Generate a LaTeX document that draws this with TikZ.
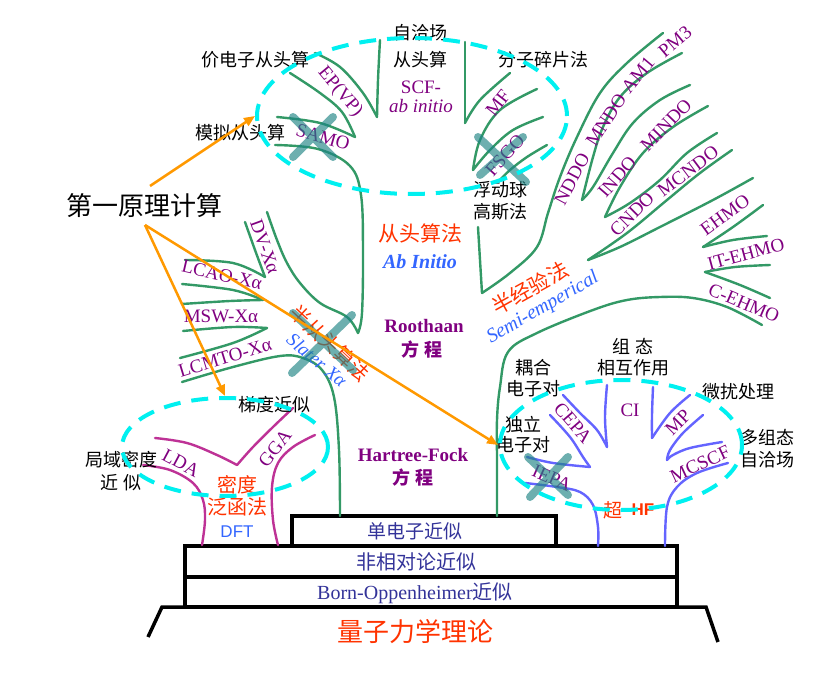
\documentclass[tikz,border=0pt]{standalone}
\usepackage{fontspec}
\setmainfont{Liberation Serif}
\newfontfamily\cjk{Noto Sans CJK SC}
\newfontfamily\arialf{Liberation Sans}
\usetikzlibrary{arrows.meta,shapes.geometric}
\definecolor{grn}{HTML}{339966}
\definecolor{pur}{HTML}{800080}
\definecolor{mgn}{HTML}{BE3296}
\definecolor{hfb}{HTML}{6464FF}
\definecolor{cyn}{HTML}{00F0F0}
\definecolor{org}{HTML}{FF9900}
\definecolor{redt}{HTML}{FF3300}
\definecolor{blut}{HTML}{3366FF}
\definecolor{navyt}{HTML}{333399}
\definecolor{tealx}{HTML}{1F8585}
\begin{document}
\begin{tikzpicture}[x=1pt,y=-1pt,
  gr/.style={draw=grn,line width=2.4pt,line cap=round,line join=round},
  mg/.style={draw=mgn,line width=2.4pt,line cap=round,line join=round},
  hb/.style={draw=hfb,line width=2.4pt,line cap=round,line join=round},
  ell/.style={draw=cyn,line width=4pt,dash pattern=on 17pt off 11pt,ellipse,inner sep=0pt},
  xm/.style={draw=tealx,line width=8pt,line cap=round,opacity=0.65},
  arr/.style={draw=org,line width=2.5pt,-{Triangle[length=11pt,width=9pt]}},
  basebox/.style={draw=black,line width=3.5pt,fill=white,inner sep=0pt},
  basel/.style={draw=black,line width=3.5pt},
  plab/.style={text=pur,font=\fontsize{19}{20}\selectfont,inner sep=0pt},
  clab/.style={font=\cjk\fontsize{18}{22}\selectfont,align=center,inner sep=0pt},
  rlab/.style={text=redt,font=\cjk\fontsize{21}{22}\selectfont,align=center,inner sep=0pt},
  boxt/.style={text=navyt,font=\fontsize{20}{22}\selectfont,inner sep=0pt},
  sm/.style={smooth,tension=0.6}
]
\fill[white] (0,0) rectangle (817,674);

% ---------- base ----------
\draw[basel] (148,637) -- (162,607) -- (706,607) -- (718,642);
\node[basebox,minimum width=492pt,minimum height=30pt] (bobox) at (431,592) {};
\node[basebox,minimum width=492pt,minimum height=31pt] (nrbox) at (431,561.5) {};
\node[basebox,minimum width=264pt,minimum height=30pt] (sebox) at (424,531) {};
\node[boxt] (bot) at (415,593) {Born-Oppenheimer{\cjk 近似}};
\node[boxt,font=\cjk\fontsize{20}{22}\selectfont] (nrt) at (416,562) {非相对论近似};
\node[boxt,font=\cjk\fontsize{19}{22}\selectfont] (set) at (415,531) {单电子近似};
\node[rlab,font=\cjk\fontsize{26}{28}\selectfont] (qm) at (415,632) {量子力学理论};

% ---------- green tree ----------
\draw[gr] plot[sm] coordinates {(340,516) (339,450) (334,397) (322,370) (303,358) (280,356) (233,367) (182,382)};
\draw[gr] plot[sm] coordinates {(180,358) (233,343) (267,328)};
\draw[gr] plot[sm] coordinates {(183,331) (233,327) (267,328)};
\draw[gr] plot[sm] coordinates {(182,304) (230,301) (263,300)};
\draw[gr] plot[sm] coordinates {(182,284) (233,290) (263,300)};
\draw[gr] plot[sm] coordinates {(185,260) (233,263) (265,277)};
\draw[gr] plot[sm] coordinates {(245,222) (255,250) (265,277)};
\draw[gr] plot[sm] coordinates {(267,212) (277,240) (287,263) (300,283) (320,303) (347,317) (358,333)};
\draw[gr] plot[sm] coordinates {(358,333) (362,313) (363,250) (361,195) (350,166) (318,149) (275,145)};
\draw[gr] plot[sm] coordinates {(277,117) (320,123) (355,137)};
\draw[gr] plot[sm] coordinates {(290,73) (320,93) (342,112) (355,137)};
\draw[gr] plot[sm] coordinates {(315,53) (340,67) (363,93) (377,117)};
\draw[gr] plot[sm] coordinates {(380,40) (378,80) (377,117)};
\draw[gr] plot[sm] coordinates {(465,42) (465,80) (465,123)};
\draw[gr] plot[sm] coordinates {(510,73) (480,100) (465,123)};
\draw[gr] plot[sm] coordinates {(537,89) (500,110) (480,140) (473,170)};
\draw[gr] plot[sm] coordinates {(543,117) (513,130) (490,150) (473,170)};
\draw[gr] plot[sm] coordinates {(547,145) (527,157) (510,170) (500,180)};
\draw[gr] plot[sm] coordinates {(478,227) (480,260) (482,293)};
\draw[gr] plot[sm] coordinates {(482,293) (510,273) (537,247) (548,213) (560,177) (577,137) (600,93) (627,63) (663,33)};
\draw[gr] plot[sm] coordinates {(682,53) (647,73) (620,97) (603,127) (593,157) (582,200)};
\draw[gr] plot[sm] coordinates {(690,85) (660,100) (633,123) (613,153) (593,187) (582,200)};
\draw[gr] plot[sm] coordinates {(708,106) (673,127) (643,153) (620,187) (605,217)};
\draw[gr] plot[sm] coordinates {(717,133) (687,153) (660,180) (630,203) (605,217)};
\draw[gr] plot[sm] coordinates {(732,150) (700,173) (667,200) (627,233) (588,260)};
\draw[gr] plot[sm] coordinates {(753,178) (713,200) (660,227) (620,247) (588,260)};
\draw[gr] plot[sm] coordinates {(763,205) (733,227) (703,247)};
\draw[gr] plot[sm] coordinates {(767,236) (733,240) (703,247)};
\draw[gr] plot[sm] coordinates {(770,265) (735,267) (705,272)};
\draw[gr] plot[sm] coordinates {(770,298) (740,285) (705,272)};
\draw[gr] plot[sm] coordinates {(497,516) (497,460) (497,420) (500,387) (508,352) (537,333) (593,310) (627,300) (660,297) (693,298) (727,307) (762,325)};

% ---------- DFT tree ----------
\draw[mg] plot[sm] coordinates {(155,438) (187,443) (217,455) (237,465)};
\draw[mg] plot[sm] coordinates {(293,408) (273,427) (253,447) (237,465)};
\draw[mg] plot[sm] coordinates {(143,465) (170,470) (193,483) (203,500) (205,520) (202,545)};
\draw[mg] plot[sm] coordinates {(315,435) (293,447) (278,463) (272,487) (273,520) (278,545)};

% ---------- post-HF tree ----------
\draw[hb] plot[sm] coordinates {(525,483) (557,487) (580,492) (593,505) (598,527) (598,546)};
\draw[hb] plot[sm] coordinates {(527,457) (553,463) (590,467)};
\draw[hb] plot[sm] coordinates {(550,415) (570,437) (583,457) (590,467)};
\draw[hb] plot[sm] coordinates {(563,395) (580,413) (597,430) (607,447)};
\draw[hb] plot[sm] coordinates {(607,385) (605,417) (607,447)};
\draw[hb] plot[sm] coordinates {(653,387) (652,415) (652,438)};
\draw[hb] plot[sm] coordinates {(690,395) (670,413) (652,438)};
\draw[hb] plot[sm] coordinates {(703,415) (683,433) (670,450) (667,460)};
\draw[hb] plot[sm] coordinates {(722,442) (690,448) (673,455) (667,460)};
\draw[hb] plot[sm] coordinates {(728,463) (697,473) (677,487) (667,507) (665,546)};

% ---------- labels: top ----------
\node[clab] (vale) at (255,60) {价电子从头算};
\node[clab,font=\cjk\fontsize{18}{27}\selectfont] (scfc) at (420,46) {自洽场\\从头算};
\node[plab,align=center,font=\fontsize{19}{19}\selectfont] (scfl) at (421,97) {SCF-\\\textit{ab initio}};
\node[clab] (frag) at (543,60) {分子碎片法};
\node[clab] (simu) at (240,133) {模拟从头算};
\node[plab,rotate=-50] (epvp) at (340,92) {EP(VP)};
\node[plab,rotate=-16] (samo) at (323,137) {SAMO};
\node[plab,rotate=52] (mf) at (498,103) {MF};
\node[plab,rotate=48] (fsgo) at (505,155) {FSGO};
\node[clab] (fgau) at (500,201) {浮动球\\高斯法};

% semi-empirical labels
\node[plab,rotate=62] (nddo) at (572,179) {NDDO};
\node[plab,rotate=57] (mndo) at (606,120) {MNDO};
\node[plab,rotate=50] (am1) at (638,75) {AM1};
\node[plab,rotate=40] (pm3) at (675,42) {PM3};
\node[plab,rotate=49] (indo) at (617,177) {INDO};
\node[plab,rotate=46] (mindo) at (666,125) {MINDO};
\node[plab,rotate=45] (cndo) at (632,214) {CNDO};
\node[plab,rotate=37] (mcndo) at (688,171) {MCNDO};
\node[plab,rotate=36] (ehmo) at (725,215) {EHMO};
\node[plab,rotate=15] (itehmo) at (746,254) {IT-EHMO};
\node[plab,rotate=-23] (cehmo) at (744,303) {C-EHMO};
\node[rlab,rotate=29] (bjy) at (530,288) {半经验法};
\node[text=blut,inner sep=0pt,rotate=30,font=\itshape\fontsize{20}{20}\selectfont] (semi) at (543,308) {Semi-emperical};

% centre labels
\node[rlab] (ctsf) at (420,233) {从头算法};
\node[text=blut,inner sep=0pt,font=\bfseries\itshape\fontsize{20}{20}\selectfont] (abin) at (420,262) {Ab Initio};
\node[plab,font=\bfseries\fontsize{19}{20}\selectfont] (root) at (424,326) {Roothaan};
\node[plab,font=\cjk\bfseries\fontsize{18}{20}\selectfont] (fc1) at (422,350) {方 程};
\node[plab,font=\bfseries\fontsize{19}{20}\selectfont] (hfk) at (413,455) {Hartree-Fock};
\node[plab,font=\cjk\bfseries\fontsize{18}{20}\selectfont] (fc2) at (413,478) {方 程};

% X-alpha labels
\node[plab,rotate=-70] (dvxa) at (265,247) {DV-Xα};
\node[plab,rotate=-13] (lcao) at (222,275) {LCAO-Xα};
\node[plab] (msw) at (221,316) {MSW-Xα};
\node[plab,rotate=17] (lcmto) at (225,358) {LCMTO-Xα};
\node[rlab,font=\cjk\fontsize{20}{22}\selectfont,rotate=-43] (bct) at (330,343) {半从头算法};
\node[text=blut,inner sep=0pt,rotate=-40,font=\itshape\fontsize{19}{20}\selectfont] (slat) at (317,360) {Slater Xα};

\node[clab,font=\cjk\fontsize{26}{28}\selectfont] (fp) at (144,206) {第一原理计算};

% DFT labels
\node[clab] (tdjs) at (274,405) {梯度近似};
\node[clab,font=\cjk\fontsize{18}{23}\selectfont] (jymd) at (121,471) {局域密度\\近 似};
\node[plab,rotate=-28] (lda) at (181,463) {LDA};
\node[plab,rotate=52] (gga) at (275,448) {GGA};
\node[rlab,font=\cjk\fontsize{20}{22}\selectfont] (mdfh) at (237,496) {密度\\泛函法};
\node[text=blut,inner sep=0pt,font=\arialf\fontsize{17}{18}\selectfont] (dft) at (237,532) {DFT};

% post-HF labels
\node[clab,font=\cjk\fontsize{18}{21}\selectfont] (ouhe) at (533,378) {耦合\\电子对};
\node[clab,font=\cjk\fontsize{18}{21}\selectfont] (zutai) at (633,357) {组 态\\相互作用};
\node[clab] (wrcl) at (738,392) {微扰处理};
\node[clab] (dzt) at (767,449) {多组态\\自洽场};
\node[clab,font=\cjk\fontsize{18}{20}\selectfont] (duli) at (523,435) {独立\\电子对};
\node[plab,rotate=-49] (cepa) at (573,423) {CEPA};
\node[plab] (ci) at (630,410) {CI};
\node[plab,rotate=45] (mp) at (678,422) {MP};
\node[plab,rotate=25] (mcscf) at (700,464) {MCSCF};
\node[plab,rotate=-24] (iepa) at (552,478) {IEPA};
\node[rlab,font=\cjk\fontsize{19}{20}\selectfont] (chao) at (613,510) {超};
\node[text=redt,inner sep=0pt,font=\arialf\bfseries\fontsize{17}{18}\selectfont] (hfl) at (643,510) {HF};

% ---------- X marks ----------
\draw[xm] (293,117) -- (333,157) (333,117) -- (293,157);
\draw[xm] (478,137) -- (526,182) (523,137) -- (480,175);
\draw[xm] (293,313) -- (353,370) (352,315) -- (292,373);
\draw[xm] (528,457) -- (568,495) (568,457) -- (530,497);

% ---------- dashed ellipses ----------
\node[ell,minimum width=310pt,minimum height=156pt] (topell) at (412,116) {};
\node[ell,minimum width=206pt,minimum height=98pt] (dftell) at (225,447) {};
\node[ell,minimum width=242pt,minimum height=130pt] (hfell) at (621,445) {};

% ---------- arrows ----------
\coordinate (fpA) at (150,186);
\coordinate (fpB) at (145,225);
\draw[arr] (fpA) -- (topell.west);
\draw[arr] (fpB) -- (dftell.north);
\draw[arr] (fpB) -- (hfell.west);
\end{tikzpicture}
\end{document}
